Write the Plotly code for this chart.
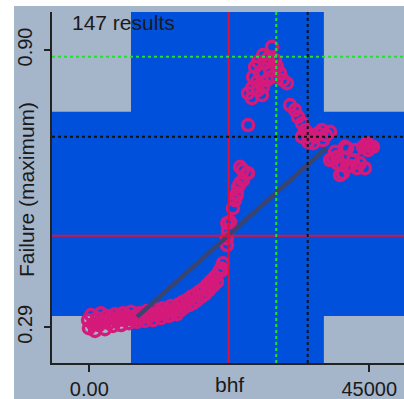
import plotly.graph_objects as go

# ---- data ----
bhf = [
    -200, -50, 270, 600, 920, 1240, 1560, 1880, 2200, 2520, 2850, 3170, 3490, 3810, 4130, 4450,
    4770, 5100, 5420, 5740, 6060, 6380,
    6700, 7020, 7350, 7670, 7990, 8310, 8630, 8950, 9270, 9590, 9920, 10240, 10560, 10880, 11200,
    11520, 11840, 12170, 12490, 12810, 13130, 13450, 13770, 14090, 14420,
    14740, 15060, 15380, 15700, 16020, 16340, 16670, 16990, 17310, 17630, 17950, 18270, 18590,
    18920, 19240, 19560, 19880, 20200, 20520, 20840, 21170,
    21330, 21490, 22130, 22100, 22290, 22610, 22150, 23090, 23420, 23740, 23900, 24220, 24700,
    23700, 25340, 24250, 24680, 25510,
    25510,
    29360, 27920, 27110, 26630, 29040, 30170, 30650, 31130, 31770, 26310, 26950, 26150, 25500,
    26140, 27920, 28560, 29360, 27430, 28240, 28720, 29850, 27110, 27760,
    32260, 33060, 33540, 34180, 34670, 34180, 35470, 36270, 36760, 37400, 38680, 35950, 37560,
    35150, 38040,
    41090, 43990, 45590, 44630, 45110, 39170, 39810, 41420, 43020, 40770, 40290, 41900, 43510,
    38680, 39810, 41420, 42380, 44310, 39490, 42700, 44790, 40610,
]
failure = [
    0.306, 0.288, 0.317, 0.297, 0.282, 0.310, 0.295, 0.321, 0.304, 0.286, 0.315, 0.299, 0.310,
    0.293, 0.319, 0.304, 0.313, 0.295, 0.321, 0.306, 0.315, 0.299,
    0.324, 0.306, 0.315, 0.302, 0.321, 0.310, 0.317, 0.304, 0.326, 0.313, 0.319, 0.306, 0.330,
    0.317, 0.324, 0.310, 0.332, 0.319, 0.328, 0.315, 0.337, 0.324, 0.332, 0.319, 0.341,
    0.328, 0.346, 0.335, 0.350, 0.339, 0.357, 0.343, 0.361, 0.350, 0.368, 0.357, 0.374, 0.363,
    0.383, 0.372, 0.392, 0.381, 0.401, 0.390, 0.412, 0.420,
    0.416, 0.431, 0.471, 0.486, 0.504, 0.522, 0.519, 0.552, 0.570, 0.585, 0.599, 0.607, 0.614,
    0.581, 0.629, 0.643, 0.636, 0.629,
    0.735,
    0.907, 0.889, 0.874, 0.863, 0.856, 0.863, 0.849, 0.834, 0.827, 0.841, 0.830, 0.816, 0.805,
    0.794, 0.819, 0.834, 0.841, 0.849, 0.871, 0.882, 0.878, 0.812, 0.801,
    0.779, 0.768, 0.753, 0.739, 0.724, 0.709, 0.713, 0.709, 0.717, 0.724, 0.720, 0.695, 0.702,
    0.698, 0.713,
    0.687, 0.687, 0.687, 0.695, 0.689, 0.662, 0.651, 0.643, 0.640, 0.629, 0.625, 0.645, 0.651,
    0.658, 0.665, 0.684, 0.658, 0.640, 0.676, 0.680, 0.680, 0.647,
]

fit_x = [7670, 38040]
fit_y = [0.313, 0.684]

sel_x = [6700, 37700]        # brushed range on bhf
sel_y = [0.315, 0.764]       # brushed range on failure
red_x, red_y = 22400, 0.4915
green_x, green_y = 30050, 0.885
black_x, black_y = 35100, 0.709

x_ticks = [0, 45000]
x_ticktext = ["0.00", "45000"]
y_ticks = [0.29, 0.90]
y_ticktext = ["0.29", "0.90"]

x_range = [-5995, 50576]
y_range = [0.2115, 0.9836]

BG = "#A5B5CA"
BLUE = "#0050DC"
PINK = "#D41A7A"
FONT = dict(family="Liberation Sans, Arial, sans-serif", size=21, color="#1a1a1a")
TICKFONT = dict(family="Liberation Sans, Arial, sans-serif", size=20, color="#1a1a1a")

fig = go.Figure()
fig.add_trace(go.Scatter(
    x=bhf, y=failure, mode="markers",
    marker=dict(symbol="circle-open", size=11, color=PINK, line=dict(width=3.5, color=PINK)),
    hoverinfo="skip", showlegend=False,
))
fig.add_trace(go.Scatter(
    x=fit_x, y=fit_y, mode="lines",
    line=dict(color="#3A4470", width=4.5), hoverinfo="skip", showlegend=False,
))

shapes = [
    dict(type="rect", xref="x", yref="paper", x0=sel_x[0], x1=sel_x[1], y0=0, y1=1,
         fillcolor=BLUE, line=dict(width=0), layer="below"),
    dict(type="rect", xref="paper", yref="y", x0=0, x1=1, y0=sel_y[0], y1=sel_y[1],
         fillcolor=BLUE, line=dict(width=0), layer="below"),
    # reference lines
    dict(type="line", xref="x", yref="paper", x0=red_x, x1=red_x, y0=0, y1=1,
         line=dict(color="#E0103C", width=2), layer="above"),
    dict(type="line", xref="paper", yref="y", x0=0, x1=1, y0=red_y, y1=red_y,
         line=dict(color="#E0103C", width=2), layer="above"),
    dict(type="line", xref="x", yref="paper", x0=green_x, x1=green_x, y0=0, y1=1,
         line=dict(color="#22E030", width=2, dash="dot"), layer="above"),
    dict(type="line", xref="paper", yref="y", x0=0, x1=1, y0=green_y, y1=green_y,
         line=dict(color="#22E030", width=2, dash="dot"), layer="above"),
    dict(type="line", xref="x", yref="paper", x0=black_x, x1=black_x, y0=0, y1=1,
         line=dict(color="#111111", width=2, dash="dot"), layer="above"),
    dict(type="line", xref="paper", yref="y", x0=0, x1=1, y0=black_y, y1=black_y,
         line=dict(color="#111111", width=2, dash="dot"), layer="above"),
    # white frame strips (top and left)
    dict(type="rect", xref="paper", yref="paper", x0=-0.16, x1=-0.108, y0=-0.12, y1=1.04,
         fillcolor="white", line=dict(width=0), layer="above"),
    dict(type="rect", xref="paper", yref="paper", x0=-0.16, x1=1.01, y0=1.0171, y1=1.04,
         fillcolor="white", line=dict(width=0), layer="above"),
]

fig.update_layout(
    width=404, height=399,
    margin=dict(l=52, r=0, t=12, b=36, autoexpand=False),
    paper_bgcolor=BG, plot_bgcolor=BG,
    font=FONT,
    shapes=shapes,
    xaxis=dict(range=x_range, showgrid=False, zeroline=False, showline=True, automargin=False,
               linecolor="#222222", linewidth=2, ticks="outside", ticklen=7, tickwidth=2,
               tickcolor="#222222", tickvals=x_ticks, ticktext=x_ticktext, fixedrange=True,
               ticklabelstandoff=0, tickfont=TICKFONT),
    yaxis=dict(range=y_range, showgrid=False, zeroline=False, showline=True, automargin=False,
               linecolor="#222222", linewidth=2, ticks="outside", ticklen=6, tickwidth=2,
               tickcolor="#222222", tickvals=y_ticks, ticktext=y_ticktext, tickangle=-90,
               fixedrange=True, ticklabelstandoff=4, tickfont=TICKFONT),
    annotations=[
        dict(text="147 results", xref="paper", yref="paper", x=0.2045, y=0.9715,
             showarrow=False, xanchor="center", yanchor="middle", font=FONT),
        dict(text="bhf", xref="paper", yref="paper", x=0.503, y=-0.06,
             showarrow=False, xanchor="center", yanchor="middle", font=FONT),
        dict(text="Failure (maximum)", xref="paper", yref="paper", x=(27 - 52) / 352, y=0.493,
             showarrow=False, xanchor="center", yanchor="middle", textangle=-90, font=FONT),
    ],
)

fig.write_html("out.html", config={"displayModeBar": False},
               post_script="document.body.style.margin='0';document.body.style.overflow='hidden';")
